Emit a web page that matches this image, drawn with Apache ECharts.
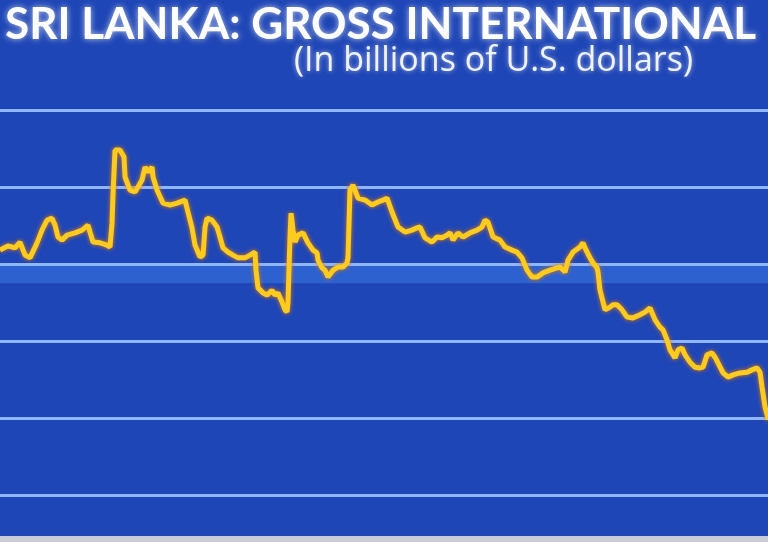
<!DOCTYPE html>
<html>
<head>
<meta charset="utf-8">
<script src="https://cdn.jsdelivr.net/npm/echarts@6/dist/echarts.min.js"></script>
<style>
  html, body { margin: 0; padding: 0; background: #1f45b3; }
  #chart { width: 768px; height: 542px; }
</style>
</head>
<body>
<div id="chart"></div>
<script>
  // dates as decimal years, reserves in billions of US$
  const dates = [
    2012.500, 2012.600, 2012.688, 2012.750, 2012.813, 2012.875, 2012.963, 2013.025, 2013.088, 2013.150,
    2013.188, 2013.225, 2013.275, 2013.338, 2013.438, 2013.525, 2013.600, 2013.625, 2013.663, 2013.750,
    2013.838, 2013.875, 2013.900, 2013.913, 2013.938, 2014.000, 2014.050, 2014.063, 2014.125, 2014.188,
    2014.225, 2014.275, 2014.313, 2014.350, 2014.400, 2014.413, 2014.463, 2014.538, 2014.625, 2014.713,
    2014.813, 2014.850, 2014.900, 2014.938, 2015.000, 2015.038, 2015.063, 2015.088, 2015.150, 2015.213,
    2015.250, 2015.288, 2015.350, 2015.413, 2015.475, 2015.563, 2015.625, 2015.688, 2015.700, 2015.725,
    2015.788, 2015.838, 2015.900, 2015.938, 2015.975, 2016.025, 2016.063, 2016.088, 2016.100, 2016.125,
    2016.138, 2016.163, 2016.188, 2016.225, 2016.288, 2016.313, 2016.350, 2016.413, 2016.463, 2016.475,
    2016.525, 2016.563, 2016.600, 2016.663, 2016.725, 2016.788, 2016.838, 2016.850, 2016.875, 2016.913,
    2016.975, 2017.063, 2017.150, 2017.225, 2017.288, 2017.338, 2017.400, 2017.475, 2017.563, 2017.650,
    2017.713, 2017.750, 2017.775, 2017.813, 2017.900, 2017.963, 2018.025, 2018.088, 2018.125, 2018.163,
    2018.225, 2018.288, 2018.375, 2018.463, 2018.525, 2018.563, 2018.600, 2018.663, 2018.750, 2018.813,
    2018.900, 2018.963, 2019.025, 2019.088, 2019.150, 2019.213, 2019.288, 2019.375, 2019.463, 2019.500,
    2019.563, 2019.600, 2019.663, 2019.750, 2019.788, 2019.813, 2019.875, 2019.913, 2019.963, 2019.975,
    2020.000, 2020.063, 2020.125, 2020.163, 2020.213, 2020.275, 2020.338, 2020.413, 2020.500, 2020.563,
    2020.625, 2020.650, 2020.688, 2020.750, 2020.788, 2020.838, 2020.875, 2020.938, 2020.975, 2021.025,
    2021.063, 2021.125, 2021.188, 2021.250, 2021.288, 2021.338, 2021.400, 2021.438, 2021.475, 2021.538,
    2021.600, 2021.663, 2021.750, 2021.838, 2021.900, 2021.963, 2022.000, 2022.025, 2022.063, 2022.100
  ]
  const reserves = [
    6.36, 6.47, 6.42, 6.57, 6.23, 6.16, 6.55, 6.88, 7.14, 7.19,
    7.01, 6.70, 6.62, 6.75, 6.81, 6.88, 7.01, 6.83, 6.57, 6.55,
    6.49, 6.44, 7.06, 7.84, 8.96, 8.96, 8.78, 8.26, 7.92, 7.87,
    8.00, 8.18, 8.52, 8.39, 8.52, 8.26, 7.92, 7.58, 7.53, 7.58,
    7.66, 7.35, 6.94, 6.49, 6.18, 6.23, 6.96, 7.19, 7.14, 6.96,
    6.70, 6.42, 6.31, 6.23, 6.16, 6.16, 6.23, 6.31, 5.84, 5.38,
    5.25, 5.19, 5.32, 5.19, 5.25, 5.01, 4.81, 4.75, 5.01, 6.70,
    7.32, 6.88, 6.57, 6.75, 6.81, 6.81, 6.55, 6.36, 6.29, 6.10,
    5.90, 5.84, 5.66, 5.84, 5.92, 5.92, 6.03, 6.16, 7.92, 8.05,
    7.71, 7.66, 7.53, 7.61, 7.66, 7.71, 7.35, 6.96, 6.83, 6.88,
    6.94, 6.96, 7.01, 6.68, 6.57, 6.70, 6.68, 6.75, 6.81, 6.62,
    6.81, 6.70, 6.81, 6.88, 6.96, 7.14, 7.09, 6.70, 6.62, 6.44,
    6.36, 6.31, 6.16, 5.84, 5.66, 5.66, 5.77, 5.84, 5.90, 5.92,
    5.79, 6.10, 6.31, 6.44, 6.55, 6.42, 6.16, 6.03, 5.90, 5.79,
    5.32, 4.81, 4.88, 4.94, 4.94, 4.81, 4.62, 4.60, 4.68, 4.75,
    4.86, 4.86, 4.55, 4.36, 4.29, 4.03, 3.77, 3.56, 3.77, 3.82,
    3.64, 3.45, 3.32, 3.30, 3.32, 3.64, 3.69, 3.58, 3.43, 3.17,
    3.06, 3.12, 3.17, 3.19, 3.25, 3.30, 3.19, 2.81, 2.29, 2.00
  ]
  // the last point
  dates.push(2022.100)
  reserves.push(1.95)
  const yTicks = [0, 2, 4, 6, 8, 10]

  const chart = echarts.init(document.getElementById('chart'))

  chart.setOption({
    backgroundColor: '#1f46b6',
    animation: false,
    title: [{
      text: 'SRI LANKA: GROSS INTERNATIONAL',
      left: 0,
      top: -2,
      textStyle: {
        color: '#ffffff',
        fontFamily: 'Lato',
        fontWeight: 'bold',
        fontSize: 44,
        textShadowColor: 'rgba(255,255,255,0.7)',
        textShadowBlur: 6
      }
    }, {
      text: '(In billions of U.S. dollars)',
      left: 289,
      top: 39,
      textStyle: {
        color: '#eef3ff',
        fontFamily: 'Open Sans',
        fontWeight: 'normal',
        fontSize: 34,
        textShadowColor: 'rgba(255,255,255,0.6)',
        textShadowBlur: 5
      }
    }],
    grid: {
      left: 0,
      right: 0,
      top: 110,
      bottom: 47
    },
    xAxis: {
      type: 'value',
      min: 2012.5,
      max: 2022.1,
      axisLine: { show: false },
      axisTick: { show: false },
      axisLabel: { show: false },
      splitLine: { show: false }
    },
    yAxis: {
      type: 'value',
      min: yTicks[0],
      max: yTicks[yTicks.length - 1],
      interval: 2,
      axisLine: { show: false },
      axisTick: { show: false },
      axisLabel: { show: false },
      splitLine: {
        lineStyle: { color: '#8fb6ff', width: 3 }
      }
    },
    graphic: [{
      type: 'rect',
      left: 0,
      bottom: 0,
      shape: { width: 768, height: 6 },
      style: { fill: '#c9ccd6' },
      z: 10
    }],
    series: [{
      type: 'line',
      data: dates.map((d, i) => [d, reserves[i]]),
      showSymbol: false,
      lineStyle: {
        color: '#fbcb20',
        width: 5,
        shadowColor: '#e07a10',
        shadowBlur: 4
      },
      markArea: {
        silent: true,
        itemStyle: { color: 'rgba(70,150,255,0.35)' },
        data: [[{ yAxis: 5.5 }, { yAxis: 5.95 }]]
      }
    }]
  })
</script>
</body>
</html>
